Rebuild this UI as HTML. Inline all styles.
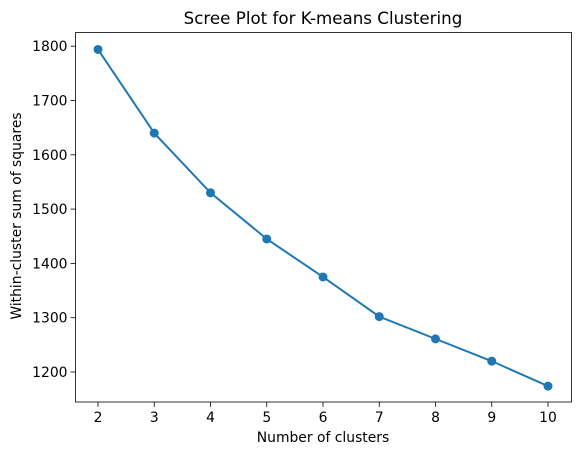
<!DOCTYPE html>
<html><head><meta charset="utf-8"><style>
body{margin:0;background:#fff;}
svg{font-family:"DejaVu Sans","Liberation Sans",sans-serif;}
</style></head><body>
<svg id="chart" width="580" height="455">
<text x="323" y="24" font-size="16.7" text-anchor="middle">Scree Plot for K-means Clustering</text>
<g id="axes"></g>
<text x="323" y="442" font-size="13.9" text-anchor="middle">Number of clusters</text>
<text transform="translate(21,216) rotate(-90)" font-size="13.9" text-anchor="middle">Within-cluster sum of squares</text>
</svg>
<script>
const clusters=[2,3,4,5,6,7,8,9,10];
const wcss=[1794,1640,1530,1445,1375,1302,1261,1220,1174];
const yTicks=[1200,1300,1400,1500,1600,1700,1800];
const ns="http://www.w3.org/2000/svg";
const L=75.5,R=571.5,T=32.5,B=402;
const xs=v=>98+(v-2)*56.25;
const ys=v=>372-(v-1200)*0.543;
const g=document.getElementById('axes');
function mk(t,a){const e=document.createElementNS(ns,t);for(const k in a)e.setAttribute(k,a[k]);g.appendChild(e);return e;}
clusters.forEach(c=>{
 const t=mk('line',{x1:xs(c),x2:xs(c),y1:B,y2:B+4.9,stroke:'#000','stroke-width':0.8});
 
 
 const l=mk('text',{x:xs(c),y:B+20,'font-size':13.9,'text-anchor':'middle'});l.textContent=c;
 
 
});
yTicks.forEach(v=>{
 const t=mk('line',{x1:L-4.9,x2:L,y1:ys(v),y2:ys(v),stroke:'#000','stroke-width':0.8});
 
 
 const l=mk('text',{x:L-8,y:ys(v)+5,'font-size':13.9,'text-anchor':'end'});l.textContent=v;
 
 
});
const line=mk('polyline',{points:clusters.map((c,i)=>xs(c)+','+ys(wcss[i])).join(' '),fill:'none',stroke:'#1f77b4','stroke-width':2});


clusters.forEach((c,i)=>{
 const p=mk('circle',{cx:xs(c),cy:ys(wcss[i]),r:4.5,fill:'#1f77b4'});
 
 
});
const f=mk('rect',{x:L,y:T,width:R-L,height:B-T,fill:'none',stroke:'#000','stroke-width':0.8});


</script>
</body></html>
